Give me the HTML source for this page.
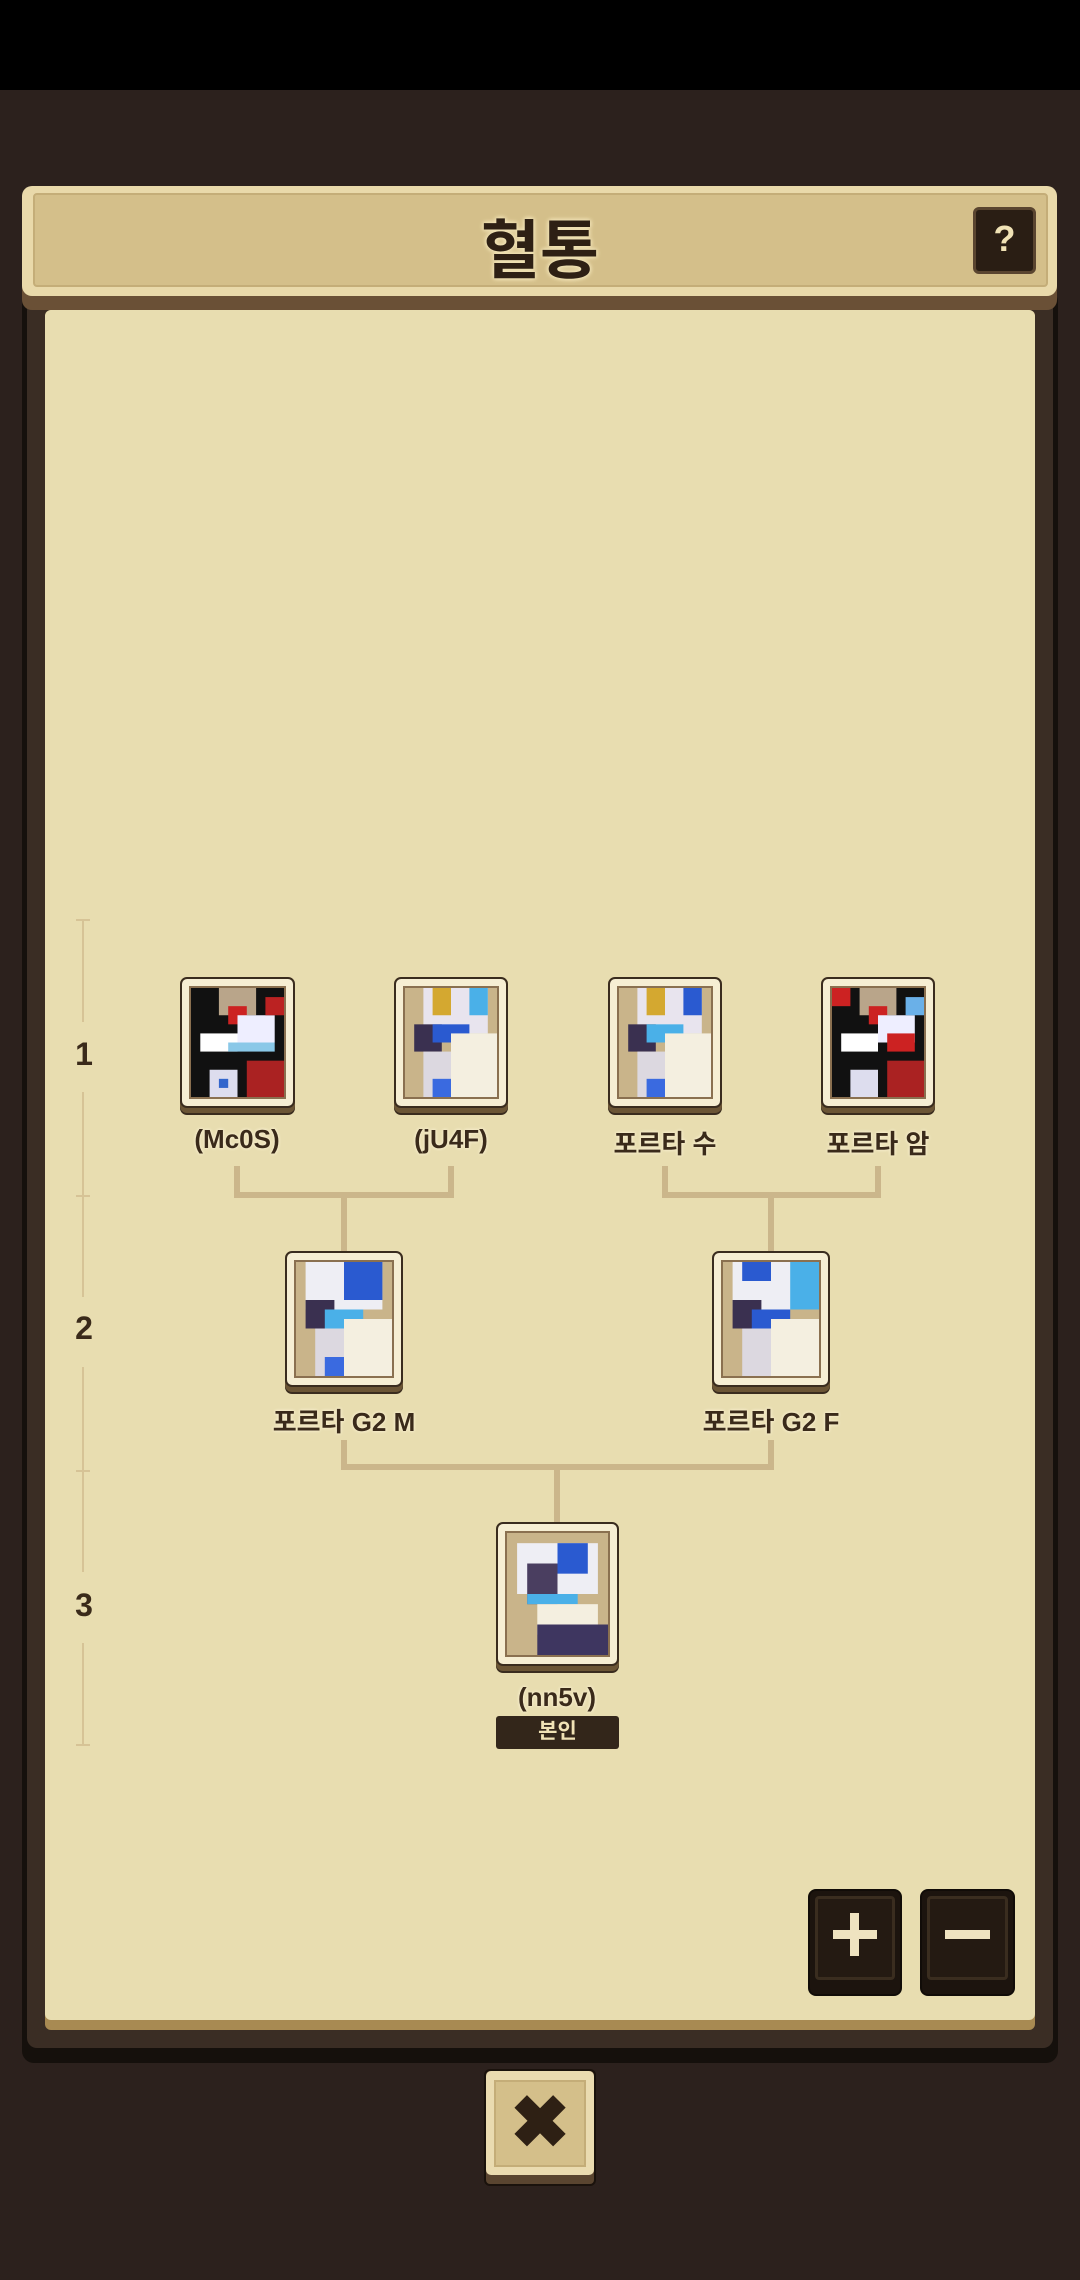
<!DOCTYPE html>
<html><head><meta charset="utf-8">
<style>
*{margin:0;padding:0;box-sizing:border-box}
body{width:1080px;height:2280px;background:#2c211d;position:relative;overflow:hidden;font-family:"Liberation Sans","Noto Sans CJK KR",sans-serif}
.abs{position:absolute}
.card{position:absolute;background:#f6eed3;border:2px solid #3a2c1e;border-radius:7px;box-shadow:0 5px 0 #6b5535,0 7px 0 #3a2c1e}
.card .in{position:absolute;left:7px;top:7px;right:7px;bottom:7px;border:2px solid #8a7050;background:#cdb58a;overflow:hidden}
.card svg{width:100%;height:100%;display:block}
.lbl{position:absolute;width:240px;text-align:center;font-weight:bold;font-size:26px;color:#3a2a1a;text-shadow:0 0 3px #f8efd0,0 0 3px #f8efd0}
.ln{position:absolute;background:#cbb68b}
.num{position:absolute;left:70px;width:28px;text-align:center;font-weight:bold;font-size:32px;color:#3a2a1a}
.vl{position:absolute;left:82px;width:2px;background:#d6c396}
.tk{position:absolute;left:76px;width:14px;height:2px;background:#d6c396}
.btn{position:absolute;background:#1c140e;border-radius:6px;box-shadow:0 0 0 2px #110c08}
.btn .b{position:absolute;left:5px;top:5px;right:5px;bottom:14px;border:3px solid #3a2d1f;border-radius:4px;background:#241a12}
</style></head><body>
<div class="abs" style="left:0;top:0;width:1080px;height:90px;background:#000"></div>

<!-- main frame -->
<div class="abs" style="left:22px;top:290px;width:1036px;height:1773px;background:#15100c;border-radius:12px"></div>
<div class="abs" style="left:27px;top:292px;width:1026px;height:1756px;background:#3a2d24;border-radius:10px"></div>
<div class="abs" style="left:45px;top:310px;width:990px;height:1720px;background:#a88a52;border-radius:6px"></div>
<div class="abs" style="left:45px;top:310px;width:990px;height:1710px;background:#e8ddb0;border-radius:6px"></div>

<!-- header -->
<div class="abs" style="left:22px;top:198px;width:1035px;height:112px;background:#6a5036;border-radius:10px"></div>
<div class="abs" style="left:22px;top:186px;width:1035px;height:110px;background:#e9d9aa;border-radius:10px"></div>
<div class="abs" style="left:33px;top:193px;width:1015px;height:94px;background:#d4bf8a;border:2px solid #c4ad78;border-radius:4px"></div>
<div class="abs" style="left:0;top:200px;width:1080px;text-align:center;font-weight:bold;font-size:64px;color:#2e2014;text-shadow:0 0 4px #f0e2b5,0 0 4px #f0e2b5,0 0 6px #f0e2b5">혈통</div>
<div class="abs" style="left:973px;top:207px;width:63px;height:67px;background:#2a1e14;border:3px solid #5a4530;border-radius:6px;color:#f0e2b5;font-weight:bold;font-size:36px;text-align:center;line-height:58px">?</div>

<!-- generation scale -->
<div class="tk" style="top:919px"></div><div class="vl" style="top:919px;height:103px"></div>
<div class="num" style="top:1036px">1</div>
<div class="vl" style="top:1092px;height:195px"></div><div class="tk" style="top:1195px"></div>
<div class="vl" style="top:1195px;height:102px"></div>
<div class="num" style="top:1310px">2</div>
<div class="vl" style="top:1367px;height:196px"></div><div class="tk" style="top:1470px"></div>
<div class="vl" style="top:1470px;height:102px"></div>
<div class="num" style="top:1587px">3</div>
<div class="vl" style="top:1643px;height:101px"></div><div class="tk" style="top:1744px"></div>

<!-- connectors -->
<div class="ln" style="left:234px;top:1166px;width:6px;height:32px"></div>
<div class="ln" style="left:448px;top:1166px;width:6px;height:32px"></div>
<div class="ln" style="left:234px;top:1192px;width:220px;height:6px"></div>
<div class="ln" style="left:341px;top:1192px;width:6px;height:60px"></div>
<div class="ln" style="left:662px;top:1166px;width:6px;height:32px"></div>
<div class="ln" style="left:875px;top:1166px;width:6px;height:32px"></div>
<div class="ln" style="left:662px;top:1192px;width:219px;height:6px"></div>
<div class="ln" style="left:768px;top:1192px;width:6px;height:60px"></div>
<div class="ln" style="left:341px;top:1440px;width:6px;height:30px"></div>
<div class="ln" style="left:768px;top:1440px;width:6px;height:30px"></div>
<div class="ln" style="left:341px;top:1464px;width:433px;height:6px"></div>
<div class="ln" style="left:554px;top:1464px;width:6px;height:60px"></div>

<!-- row1 -->
<div class="card" style="left:180px;top:977px;width:115px;height:131px"><div class="in"><svg viewBox="0 0 10 12" preserveAspectRatio="none"><rect width="10" height="12" fill="#111"/><rect x="3" y="0" width="4" height="3" fill="#b9a58a"/><rect x="4" y="2" width="2" height="2" fill="#c22"/><rect x="5" y="3" width="4" height="3" fill="#eef"/><rect x="1" y="5" width="4" height="2" fill="#fff"/><rect x="4" y="6" width="5" height="1" fill="#8ac8e8"/><rect x="6" y="8" width="4" height="4" fill="#a22"/><rect x="2" y="9" width="3" height="3" fill="#dde"/><rect x="3" y="10" width="1" height="1" fill="#36c"/><rect x="8" y="1" width="2" height="2" fill="#b22"/></svg></div></div>
<div class="card" style="left:394px;top:977px;width:114px;height:131px"><div class="in"><svg viewBox="0 0 10 12" preserveAspectRatio="none"><rect width="10" height="12" fill="#c9b48a"/><rect x="2" y="0" width="7" height="5" fill="#e8e4ee"/><rect x="3" y="0" width="2" height="3" fill="#d4a830"/><rect x="7" y="0" width="2" height="3" fill="#4ab0e8"/><rect x="1" y="4" width="3" height="3" fill="#3a3050"/><rect x="3" y="4" width="4" height="2" fill="#2a5ad0"/><rect x="5" y="5" width="5" height="7" fill="#f4efe0"/><rect x="2" y="7" width="3" height="5" fill="#dcd8e0"/><rect x="3" y="10" width="2" height="2" fill="#3a6ae0"/></svg></div></div>
<div class="card" style="left:608px;top:977px;width:114px;height:131px"><div class="in"><svg viewBox="0 0 10 12" preserveAspectRatio="none"><rect width="10" height="12" fill="#c9b48a"/><rect x="2" y="0" width="7" height="5" fill="#e8e4ee"/><rect x="3" y="0" width="2" height="3" fill="#d4a830"/><rect x="7" y="0" width="2" height="3" fill="#2a5ad0"/><rect x="1" y="4" width="3" height="3" fill="#3a3050"/><rect x="3" y="4" width="4" height="2" fill="#4ab0e8"/><rect x="5" y="5" width="5" height="7" fill="#f4efe0"/><rect x="2" y="7" width="3" height="5" fill="#dcd8e0"/><rect x="3" y="10" width="2" height="2" fill="#3a6ae0"/></svg></div></div>
<div class="card" style="left:821px;top:977px;width:114px;height:131px"><div class="in"><svg viewBox="0 0 10 12" preserveAspectRatio="none"><rect width="10" height="12" fill="#111"/><rect x="0" y="0" width="2" height="2" fill="#c22"/><rect x="3" y="0" width="4" height="3" fill="#b9a58a"/><rect x="4" y="2" width="2" height="2" fill="#c22"/><rect x="5" y="3" width="4" height="3" fill="#eef"/><rect x="1" y="5" width="4" height="2" fill="#fff"/><rect x="6" y="5" width="3" height="2" fill="#c22"/><rect x="6" y="8" width="4" height="4" fill="#a22"/><rect x="2" y="9" width="3" height="3" fill="#dde"/><rect x="8" y="1" width="2" height="2" fill="#6ab0e8"/></svg></div></div>
<div class="lbl" style="left:117px;top:1124px">(Mc0S)</div>
<div class="lbl" style="left:331px;top:1124px">(jU4F)</div>
<div class="lbl" style="left:545px;top:1124px">포르타 수</div>
<div class="lbl" style="left:758px;top:1124px">포르타 암</div>

<!-- row2 -->
<div class="card" style="left:285px;top:1251px;width:118px;height:136px"><div class="in"><svg viewBox="0 0 10 12" preserveAspectRatio="none"><rect width="10" height="12" fill="#c9b48a"/><rect x="1" y="0" width="8" height="5" fill="#eeeef4"/><rect x="5" y="0" width="4" height="4" fill="#2a5ad0"/><rect x="1" y="4" width="3" height="3" fill="#3a3050"/><rect x="3" y="5" width="4" height="2" fill="#4ab0e8"/><rect x="5" y="6" width="5" height="6" fill="#f4efe0"/><rect x="2" y="7" width="3" height="5" fill="#dcd8e0"/><rect x="3" y="10" width="2" height="2" fill="#3a6ae0"/></svg></div></div>
<div class="card" style="left:712px;top:1251px;width:118px;height:136px"><div class="in"><svg viewBox="0 0 10 12" preserveAspectRatio="none"><rect width="10" height="12" fill="#c9b48a"/><rect x="1" y="0" width="8" height="5" fill="#eeeef4"/><rect x="7" y="0" width="3" height="5" fill="#4ab0e8"/><rect x="2" y="0" width="3" height="2" fill="#2a5ad0"/><rect x="1" y="4" width="3" height="3" fill="#3a3050"/><rect x="3" y="5" width="4" height="2" fill="#2a5ad0"/><rect x="5" y="6" width="5" height="6" fill="#f4efe0"/><rect x="2" y="7" width="3" height="5" fill="#dcd8e0"/></svg></div></div>
<div class="lbl" style="left:224px;top:1402px">포르타 G2 M</div>
<div class="lbl" style="left:651px;top:1402px">포르타 G2 F</div>

<!-- row3 -->
<div class="card" style="left:496px;top:1522px;width:123px;height:144px"><div class="in"><svg viewBox="0 0 10 12" preserveAspectRatio="none"><rect width="10" height="12" fill="#c9b48a"/><rect x="1" y="1" width="8" height="5" fill="#eeeef4"/><rect x="5" y="1" width="3" height="3" fill="#2a5ad0"/><rect x="2" y="3" width="3" height="4" fill="#4a3e60"/><rect x="2" y="6" width="5" height="1" fill="#4ab0e8"/><rect x="3" y="7" width="6" height="3" fill="#f4efe0"/><rect x="3" y="9" width="7" height="3" fill="#3e3660"/></svg></div></div>
<div class="lbl" style="left:437px;top:1682px">(nn5v)</div>
<div class="abs" style="left:496px;top:1716px;width:123px;height:33px;background:#33261a;border-radius:3px;color:#f0e2b5;font-size:21px;font-weight:bold;text-align:center;line-height:32px">본인</div>

<!-- zoom buttons -->
<div class="btn" style="left:810px;top:1891px;width:90px;height:103px"><div class="b"></div>
<div class="abs" style="left:23px;top:39px;width:44px;height:9px;background:#efe3c0"></div>
<div class="abs" style="left:40px;top:22px;width:9px;height:43px;background:#efe3c0"></div></div>
<div class="btn" style="left:922px;top:1891px;width:91px;height:103px"><div class="b"></div>
<div class="abs" style="left:23px;top:39px;width:45px;height:9px;background:#efe3c0"></div></div>

<!-- close -->
<div class="abs" style="left:484px;top:2069px;width:112px;height:117px;background:#5a4530;border:2px solid #1a120c;border-radius:6px"></div>
<div class="abs" style="left:486px;top:2071px;width:108px;height:104px;background:#eadbb0;border-radius:5px"></div>
<div class="abs" style="left:494px;top:2080px;width:92px;height:87px;background:#d4bf8a;border:2px solid #c4ad78"></div>
<div class="abs" style="left:484px;top:2078px;width:112px;text-align:center;font-size:72px;font-weight:bold;color:#2e2014;line-height:90px">✖</div>
</body></html>
